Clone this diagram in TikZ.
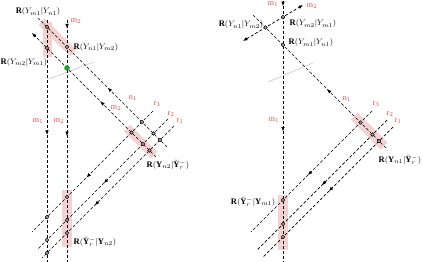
\documentclass[tikz,border=0pt]{standalone}
\usepackage{fontspec}
\setmainfont{Liberation Serif}
\usetikzlibrary{arrows.meta,decorations.markings}
\definecolor{labred}{HTML}{E0474C}
\definecolor{pinkband}{HTML}{F3CACA}
\definecolor{mirrorgray}{HTML}{BDBDBD}
\definecolor{spot}{HTML}{1E9A2E}

\tikzset{
  ray/.style={dash pattern=on 3pt off 2pt, line width=0.7pt},
  flow/.style={postaction={decorate,decoration={markings,
      mark=at position #1 with {\arrow{Latex[length=4.5pt,width=3.5pt]}}}}},
  dot/.style={circle, draw, fill=gray!55, inner sep=0pt, minimum size=3.6pt, line width=0.6pt},
  lab/.style={text=labred, font=\footnotesize, inner sep=1pt},
  lbl/.style={font=\fontsize{8.5}{10}\selectfont, inner sep=0.5pt},
  hilite/.style={fill=pinkband, opacity=0.85}
}

\begin{document}
\begin{tikzpicture}[x=1pt, y=-1pt]
  \useasboundingbox (0,0) rectangle (423,262);

  % ---- left panel: end points
  \coordinate (m1a) at (47,20);   \coordinate (m1b) at (47,262);
  \coordinate (m2a) at (67,20);   \coordinate (m2b) at (67,262);
  \coordinate (n1a) at (167,147); \coordinate (n1b) at (38,18);
  \coordinate (d2a) at (156,157); \coordinate (d2b) at (32,33);
  \coordinate (r3a) at (153,111); \coordinate (r3b) at (32,232);
  \coordinate (r2a) at (168,119); \coordinate (r2b) at (37,250);
  \coordinate (r1a) at (174,126); \coordinate (r1b) at (42,258);
  \coordinate (g1) at (49,79);    \coordinate (g2) at (94,62);

  % ---- right panel: end points
  \coordinate (M1a) at (283,1);   \coordinate (M1b) at (283,262);
  \coordinate (M2a) at (243,41);  \coordinate (M2b) at (303,5);
  \coordinate (N1a) at (386,148); \coordinate (N1b) at (252,14);
  \coordinate (R3a) at (372,111); \coordinate (R3b) at (251,232);
  \coordinate (R2a) at (387,120); \coordinate (R2b) at (257,250);
  \coordinate (R1a) at (393,127); \coordinate (R1b) at (262,258);
  \coordinate (G1) at (268,82);   \coordinate (G2) at (313,63);

  % highlight bands
  \fill[hilite] (43,22) rectangle (52,57);
  \fill[hilite] (45.2,18.8) -- (76.2,49.8) -- (69.8,56.2) -- (38.8,25.2) -- cycle;
  \fill[hilite] (130.2,124.8) -- (157.2,151.8) -- (150.8,158.2) -- (123.8,131.2) -- cycle;
  \fill[hilite] (62,190) rectangle (72,247);
  \fill[hilite] (357.5,112.5) -- (387.5,142.5) -- (380.5,149.5) -- (350.5,119.5) -- cycle;
  \fill[hilite] (278,195) rectangle (288,250);

  % mirrors
  \draw[mirrorgray, line width=0.5pt] (g1) -- (g2);
  \draw[mirrorgray, line width=0.5pt] (G1) -- (G2);

  % left rays
  \draw[ray, flow=0.475] (m1a) -- (m1b);
  \draw[ray, flow=0.035, flow=0.48] (m2a) -- (m2b);
  \draw[ray, flow=0.46] (n1a) -- (n1b);
  \draw[ray, flow=0.45, -{Latex[length=4.5pt,width=3.5pt]}] (d2a) -- (d2b);
  \draw[ray, flow=0.55] (r3a) -- (r3b);
  \draw[ray, flow=0.49] (r2a) -- (r2b);
  \draw[ray, flow=0.6] (r1a) -- (r1b);

  % right rays
  \draw[ray, flow=0.02, flow=0.5] (M1a) -- (M1b);
  \draw[ray, {Latex[length=4.5pt,width=3.5pt]}-{Latex[length=4.5pt,width=3.5pt]}] (M2a) -- (M2b);
  \draw[ray, flow=0.44] (N1a) -- (N1b);
  \draw[ray, flow=0.53] (R3a) -- (R3b);
  \draw[ray, flow=0.5] (R2a) -- (R2b);
  \draw[ray, flow=0.49] (R1a) -- (R1b);

  % left crossings
  \node[dot] (x11) at (intersection of m1a--m1b and n1a--n1b) {};
  \node[dot] (x21) at (intersection of m2a--m2b and n1a--n1b) {};
  \node[dot] (x12) at (intersection of m1a--m1b and d2a--d2b) {};
  \node[circle, fill=spot, inner sep=0pt, minimum size=5.5pt] (gs) at (intersection of m2a--m2b and d2a--d2b) {};
  \foreach \r in {r1,r2,r3} {
    \node[dot] (n-\r) at (intersection of n1a--n1b and \r a--\r b) {};
    \node[dot] (d-\r) at (intersection of d2a--d2b and \r a--\r b) {};
    \node[dot] (a-\r) at (intersection of m1a--m1b and \r a--\r b) {};
    \node[dot] (b-\r) at (intersection of m2a--m2b and \r a--\r b) {};
  }

  % right crossings
  \node[dot] (X12) at (intersection of M1a--M1b and M2a--M2b) {};
  \node[dot] (X22) at (intersection of N1a--N1b and M2a--M2b) {};
  \node[dot] (X11) at (intersection of M1a--M1b and N1a--N1b) {};
  \foreach \r in {R1,R2,R3} {
    \node[dot] (n-\r) at (intersection of N1a--N1b and \r a--\r b) {};
    \node[dot] (a-\r) at (intersection of M1a--M1b and \r a--\r b) {};
  }

  % left labels
  \node[lbl] (t1) at (38,12) {$\mathbf{R}(Y_{m1}|Y_{n1})$};
  \node[lbl, anchor=west] (t2) at (73,47) {$\mathbf{R}(Y_{n1}|Y_{m2})$};
  \node[lbl, anchor=west] (t3) at (0,62) {$\mathbf{R}(Y_{m2}|Y_{m1})$};
  \node[lbl, anchor=west] (t4) at (146,165) {$\mathbf{R}(\mathbf{Y}_{n2}|\breve{\mathbf{Y}}^{-}_{r})$};
  \node[lbl, anchor=west] (t5) at (73,242) {$\mathbf{R}(\breve{\mathbf{Y}}^{-}_{r}|\mathbf{Y}_{n2})$};
  \node[lab] (l1) at (76,21) {m$_2$};
  \node[lab] (l2) at (38,121) {m$_1$};
  \node[lab] (l3) at (59,121) {m$_2$};
  \node[lab] (l4) at (133,98) {n$_1$};
  \node[lab] (l5) at (116,108) {m$_2$};
  \node[lab] (l6) at (157,104) {r$_3$};
  \node[lab] (l7) at (171,114) {r$_2$};
  \node[lab] (l8) at (180,121) {r$_1$};

  % right labels
  \node[lbl, anchor=east] (T1) at (264,25) {$\mathbf{R}(Y_{n1}|Y_{m2})$};
  \node[lbl, anchor=west] (T2) at (289,24) {$\mathbf{R}(Y_{m2}|Y_{m1})$};
  \node[lbl, anchor=west] (T3) at (288,43) {$\mathbf{R}(Y_{m1}|Y_{n1})$};
  \node[lbl, anchor=west] (T4) at (378,160) {$\mathbf{R}(\mathbf{Y}_{n1}|\breve{\mathbf{Y}}^{-}_{r})$};
  \node[lbl, anchor=east] (T5) at (276,202) {$\mathbf{R}(\breve{\mathbf{Y}}^{-}_{r}|\mathbf{Y}_{m1})$};
  \node[lab] (L1) at (273,4) {m$_1$};
  \node[lab] (L2) at (312,6) {m$_2$};
  \node[lab] (L3) at (274,120) {m$_1$};
  \node[lab] (L4) at (347,99) {n$_1$};
  \node[lab] (L5) at (376,104) {r$_3$};
  \node[lab] (L6) at (390,114) {r$_2$};
  \node[lab] (L7) at (398,121) {r$_1$};
\end{tikzpicture}
\end{document}
